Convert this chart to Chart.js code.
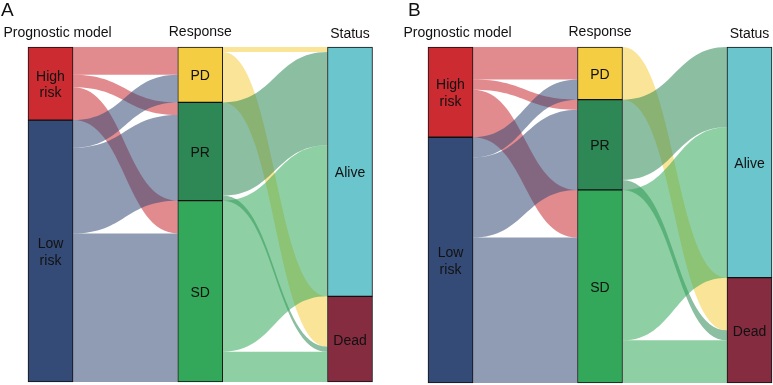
<!DOCTYPE html>
<html>
<head>
<meta charset="utf-8">
<script src="https://cdn.jsdelivr.net/npm/chart.js@4.4.1/dist/chart.umd.min.js"></script>
<style>
  html, body { margin: 0; padding: 0; background: #fff; }
  #wrap { position: relative; width: 773px; height: 385px; overflow: hidden; }
  canvas { position: absolute; top: 0; }
  #chartA { left: 0; }
  #chartB { left: 386px; }
</style>
</head>
<body>
<div id="wrap">
  <canvas id="chartA" width="386" height="385"></canvas>
  <canvas id="chartB" width="387" height="385"></canvas>
</div>
<script>
// columns and nodes
const columns = ['Prognostic model', 'Response', 'Status'];
const modelNodes = ['High risk', 'Low risk'];
const responseNodes = ['PD', 'PR', 'SD'];
const statusNodes = ['Alive', 'Dead'];

// patients: rows = High, Low ; cols = PD, PR, SD
const flowsA_modelToResponse = [[11, 5, 13], [11, 34, 59]];
// rows = PD, PR, SD ; cols = Alive, Dead
const flowsA_responseToStatus = [[2, 20], [37, 2], [60, 12]];

const flowsB_modelToResponse = [[13, 4, 19], [8, 32, 58]];
const flowsB_responseToStatus = [[0, 21], [32, 4], [60, 17]];

const nodeColors = {
    'High risk': '#cb2b31', 'Low risk': '#354b77',
    'PD': '#f4cd42', 'PR': '#2e8856', 'SD': '#33a85a',
    'Alive': '#6ac5cd', 'Dead': '#852c41'
};

const FONT = '"Liberation Sans", Arial, sans-serif';
const BAR_W = 45;

function hexToRgba(hex, a) {
    const n = parseInt(hex.slice(1), 16);
    return 'rgba(' + (n >> 16) + ',' + ((n >> 8) & 255) + ',' + (n & 255) + ',' + a + ')';
}

function rowSums(m) { return m.map(r => r.reduce((s, v) => s + v, 0)); }
function colSums(m) { return m[0].map((_, j) => m.reduce((s, r) => s + r[j], 0)); }

// builds node extents + link list for one panel
function buildSankey(m2r, r2s) {
    const colNodes = [modelNodes, responseNodes, statusNodes];
    const totals = [rowSums(m2r), colSums(m2r), colSums(r2s)];
    const nodes = [];
    colNodes.forEach((names, c) => {
        let acc = 0;
        names.forEach((name, i) => {
            nodes.push({ name, col: c, idx: i, lo: acc, hi: acc + totals[c][i] });
            acc += totals[c][i];
        });
    });
    const find = (c, i) => nodes.find(n => n.col === c && n.idx === i);
    const links = [];
    [m2r, r2s].forEach((mat, c) => {
        const outOff = {}, inOff = {};
        mat.forEach((row, i) => {
            row.forEach((v, j) => {
                const s = find(c, i), t = find(c + 1, j);
                const so = outOff[i] || 0, to = inOff[j] || 0;
                if (v > 0) {
                    links.push({ col: c, color: nodeColors[s.name],
                        y0: s.lo + so, y1: t.lo + to, v });
                }
                outOff[i] = so + v;
                inOff[j] = to + v;
            });
        });
    });
    return { nodes, links, total: totals[0].reduce((a, b) => a + b, 0) };
}

const ribbonPlugin = {
    id: 'ribbons',
    beforeDatasetsDraw(chart, args, opts) {
        const { ctx, scales: { x, y } } = chart;
        ctx.save();
        opts.links.forEach(l => {
            const x0 = x.getPixelForValue(l.col) + BAR_W / 2;
            const x1 = x.getPixelForValue(l.col + 1) - BAR_W / 2;
            const xm = (x0 + x1) / 2;
            const a0 = y.getPixelForValue(l.y0), b0 = y.getPixelForValue(l.y0 + l.v);
            const a1 = y.getPixelForValue(l.y1), b1 = y.getPixelForValue(l.y1 + l.v);
            ctx.beginPath();
            ctx.moveTo(x0, a0);
            ctx.bezierCurveTo(xm, a0, xm, a1, x1, a1);
            ctx.lineTo(x1, b1);
            ctx.bezierCurveTo(xm, b1, xm, b0, x0, b0);
            ctx.closePath();
            ctx.fillStyle = hexToRgba(l.color, 0.55);
            ctx.fill();
        });
        ctx.restore();
    },
    afterDatasetsDraw(chart, args, opts) {
        const { ctx, scales: { x, y } } = chart;
        ctx.save();
        ctx.fillStyle = '#111';
        ctx.textBaseline = 'middle';
        ctx.textAlign = 'center';
        ctx.font = '14px ' + FONT;
        opts.nodes.forEach(n => {
            const cx = x.getPixelForValue(n.col);
            const cy = y.getPixelForValue((n.lo + n.hi) / 2) + 1.5;
            const lines = n.name.split(' ');
            lines.forEach((t, k) => {
                ctx.fillText(t, cx, cy + (k - (lines.length - 1) / 2) * 16.5);
            });
        });
        // column headers
        columns.forEach((name, c) => {
            const cx = x.getPixelForValue(c);
            if (c === 0) {
                ctx.textAlign = 'left';
                ctx.fillText(name, cx - 47, 33);
            } else {
                ctx.textAlign = 'center';
                ctx.fillText(name, cx, c === 1 ? 32 : 34);
            }
        });
        // panel letter
        ctx.font = '19px ' + FONT;
        ctx.textAlign = 'left';
        ctx.textBaseline = 'alphabetic';
        ctx.fillText(opts.letter, opts.letterX, 16);
        ctx.restore();
    }
};

function makePanel(canvasId, letter, letterX, m2r, r2s, c0, c2, top, bottom) {
    const canvas = document.getElementById(canvasId);
    const W = canvas.width, H = canvas.height;
    const sk = buildSankey(m2r, r2s);
    const xmin = -0.3, xmax = 2.15;
    const s = (c2 - c0) / 2;
    const left = c0 + xmin * s;
    const right = c2 + (xmax - 2) * s;

    const datasets = sk.nodes.map(n => ({
        label: n.name,
        data: [{ x: n.col, y: [n.lo, n.hi] }],
        backgroundColor: nodeColors[n.name],
        borderColor: '#111',
        borderWidth: 1,
        borderSkipped: false,
        grouped: false,
        barThickness: BAR_W,
        clip: false
    }));

    return new Chart(canvas.getContext('2d'), {
        type: 'bar',
        data: { datasets },
        options: {
            responsive: false,
            animation: false,
            layout: { padding: { left: left, right: W - right, top: top, bottom: H - bottom } },
            scales: {
                x: { type: 'linear', min: xmin, max: xmax, offset: false, display: false },
                y: { type: 'linear', min: 0, max: sk.total, reverse: true, display: false }
            },
            plugins: {
                legend: { display: false },
                tooltip: { enabled: false },
                ribbons: { links: sk.links, nodes: sk.nodes, letter, letterX }
            }
        },
        plugins: [ribbonPlugin]
    });
}

makePanel('chartA', 'A', 1, flowsA_modelToResponse, flowsA_responseToStatus, 50.5, 350, 47, 382);
makePanel('chartB', 'B', 22, flowsB_modelToResponse, flowsB_responseToStatus, 64.5, 363.5, 47, 383);
</script>
</body>
</html>
